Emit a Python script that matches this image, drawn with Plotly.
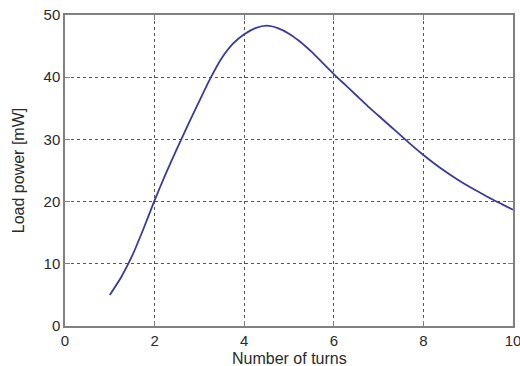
import plotly.graph_objects as go

turns = [1.0, 1.25, 1.5, 1.75, 2.0, 2.25, 2.5, 2.75, 3.0, 3.25, 3.5, 3.75, 4.0, 4.25, 4.5,
         4.75, 5.0, 5.25, 5.5, 5.75, 6.0, 6.25, 6.5, 6.75, 7.0, 7.25, 7.5, 7.75, 8.0,
         8.25, 8.5, 8.75, 9.0, 9.25, 9.5, 9.75, 10.0]
power = [5.0, 7.8, 11.3, 15.6, 20.2, 24.5, 28.5, 32.4, 36.2, 39.9, 43.1, 45.4, 46.9, 47.9, 48.3,
         47.9, 47.0, 45.7, 44.1, 42.3, 40.5, 38.8, 37.1, 35.4, 33.8, 32.2, 30.6, 29.0, 27.5,
         26.1, 24.8, 23.6, 22.5, 21.5, 20.5, 19.6, 18.7]

x_ticks = [0, 2, 4, 6, 8, 10]
y_ticks = [0, 10, 20, 30, 40, 50]

FONT = "Liberation Sans, Arial, sans-serif"

fig = go.Figure()
fig.add_trace(go.Scatter(
    x=turns, y=power, mode="lines",
    line=dict(color="#3a3a9e", width=1.8, shape="spline", smoothing=0.6),
    showlegend=False,
))

axis_common = dict(
    showline=True, linecolor="#808080", linewidth=1.5, mirror="ticks",
    ticks="inside", ticklen=5, tickcolor="#808080", tickwidth=1,
    showgrid=True, gridcolor="#555555", griddash="dot", gridwidth=1,
    zeroline=False, automargin=False, ticklabeloverflow="allow",
    tickfont=dict(family=FONT, size=15, color="#2a2a2a"),
)

fig.update_xaxes(range=[0, 10], tickvals=x_ticks, **axis_common)
fig.update_yaxes(range=[0, 50], tickvals=y_ticks,
                 title=dict(text="Load power [mW]",
                            font=dict(family=FONT, size=16, color="#2a2a2a")),
                 **axis_common)

fig.add_annotation(
    text="Number of turns", xref="paper", yref="paper", x=0.5, y=0,
    xanchor="center", yanchor="top", yshift=-22, showarrow=False,
    font=dict(family=FONT, size=16, color="#2a2a2a"),
)

fig.update_layout(
    width=520, height=366,
    margin=dict(l=65, r=7, t=15, b=40),
    paper_bgcolor="white", plot_bgcolor="white",
)

fig.write_html("out.html")
